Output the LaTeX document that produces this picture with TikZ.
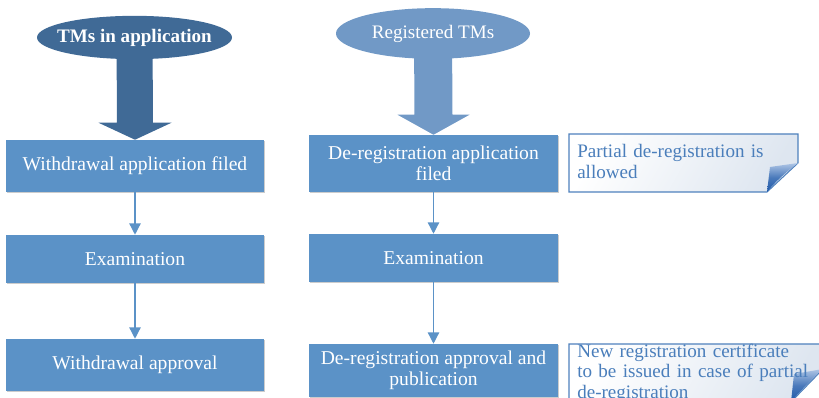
\documentclass[tikz,border=0pt]{standalone}
\usepackage{fontspec}
\setmainfont{Liberation Serif}
\usetikzlibrary{shapes.geometric,arrows.meta,calc,shadows,backgrounds}
\definecolor{boxblue}{RGB}{91,146,199}
\definecolor{darkell}{RGB}{64,106,150}
\definecolor{lightell}{RGB}{113,153,198}
\definecolor{notetxt}{RGB}{74,126,187}
\definecolor{noteline}{RGB}{79,129,189}
\definecolor{notefill}{RGB}{222,230,240}
\definecolor{folddark}{RGB}{30,88,168}
\definecolor{foldlight}{RGB}{175,198,230}
\tikzset{
  stepbox/.style={rectangle, fill=boxblue, text=white, align=center, inner sep=0pt,
    font=\fontsize{14.7}{15.5}\selectfont,
    drop shadow={shadow xshift=0.7pt, shadow yshift=-0.9pt, opacity=0.2, fill=black}},
  topell/.style={ellipse, inner sep=0pt, text=white, font=\fontsize{14.3}{16}\selectfont},
  conn/.style={draw=boxblue, line width=1pt, -{Triangle[width=8.5pt,length=8.5pt]}},
  notetext/.style={anchor=north west, inner sep=0pt, text=notetxt, align=left,
    text width=180pt, font=\fontsize{14.3}{15.5}\selectfont},
  noteshape/.style={draw=noteline, line width=0.8pt, shading=axis, left color=white, right color=notefill, shading angle=60},
  foldshape/.style={shading=axis, top color=foldlight, bottom color=folddark, middle color=folddark!70!foldlight}
}
\begin{document}
\begin{tikzpicture}[x=0.75pt, y=-0.75pt]
\useasboundingbox (0,0) rectangle (819,398);
\clip (0,0) rectangle (819,398);
% ellipses
\node[topell, fill=darkell, minimum width=146.25pt, minimum height=32.5pt] (e1) at (134.5,37.5) {\makebox[0pt]{\bfseries TMs in application}};
\node[topell, fill=lightell, minimum width=145.5pt, minimum height=38pt] (e2) at (433,33.5) {\makebox[0pt]{Registered TMs}};
% left column
\node[stepbox, minimum width=193.5pt, minimum height=39pt] (l1) at (135,166) {Withdrawal application filed};
\node[stepbox, minimum width=193.5pt, minimum height=36pt] (l2) at (135,259) {Examination};
\node[stepbox, minimum width=193.5pt, minimum height=39pt] (l3) at (135,365) {Withdrawal approval};
% right column
\node[stepbox, minimum width=186.75pt, minimum height=42.75pt] (r1) at (433.5,163.5) {De-registration application\\filed};
\node[stepbox, minimum width=186.75pt, minimum height=36pt] (r2) at (433.5,258) {Examination};
\node[stepbox, minimum width=186.75pt, minimum height=39.75pt] (r3) at (433.5,370.5) {De-registration approval and\\publication};
% block arrows behind the ellipses
\begin{scope}[on background layer]
\fill[darkell] ($(e1.center)+(-18,0)$) -- ($(l1.north)+(-18,-17)$) -- ($(l1.north)+(-36.5,-17)$) -- (l1.north)
  -- ($(l1.north)+(36.5,-17)$) -- ($(l1.north)+(18,-17)$) -- ($(e1.center)+(18,0)$) -- cycle;
\fill[lightell] ($(e2.center)+(-19,0)$) -- ($(r1.north)+(-19,-20)$) -- ($(r1.north)+(-36,-20)$) -- (r1.north)
  -- ($(r1.north)+(36,-20)$) -- ($(r1.north)+(19,-20)$) -- ($(e2.center)+(19,0)$) -- cycle;
\end{scope}
% connectors
\draw[conn] (l1) -- (l2);
\draw[conn] (l2) -- (l3);
\draw[conn] (r1) -- (r2);
\draw[conn] (r2) -- (r3);
% note 1
\path[noteshape] (569,134) -- (798,134) -- (798,163) -- (767,192) -- (569,192) -- cycle;
\path[foldshape] (767,192) -- (770,167) -- (798,163) .. controls (786,172) and (775,182) .. cycle;
\node[notetext] (n1) at (577,144.5) {Partial de-registration is\\allowed};
% note 2
\path[noteshape] (569,344) -- (823,344) -- (823,369) -- (791,402) -- (569,402) -- cycle;
\path[foldshape] (791,402) -- (794,374) -- (823,369) .. controls (811,380) and (800,391) .. cycle;
\node[notetext, text width=200pt] (n2) at (577,343.5) {New registration certificate\\to be issued in case of partial\\de-registration};
\end{tikzpicture}
\end{document}
